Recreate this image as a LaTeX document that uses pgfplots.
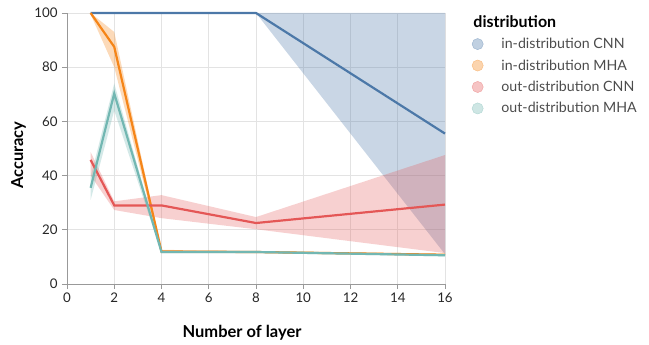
\documentclass[border=0pt]{standalone}
\usepackage{fontspec}
\setmainfont{Lato}
\usepackage{pgfplots}
\pgfplotsset{compat=1.18}
\definecolor{cblue}{HTML}{4C78A8}
\definecolor{corange}{HTML}{F58518}
\definecolor{cred}{HTML}{E45756}
\definecolor{cteal}{HTML}{72B7B2}
\begin{document}
\begin{tikzpicture}[x=1pt,y=1pt]
\path (0,0) rectangle (649,345);
\begin{axis}[
  at={(67pt,61pt)}, anchor=origin,
  scale only axis, width=378pt, height=271pt,
  xmin=0, xmax=16, ymin=0, ymax=100,
  xtick={0,2,...,16}, ytick={0,20,...,100},
  axis lines*=left,
  axis line style={gray!80, line width=0.8pt, -},
  tick align=outside, tick style={gray!80, line width=0.8pt},
  major tick length=5pt,
  grid=major, grid style={gray!22, line width=0.8pt},
  /pgf/number format/assume math mode=true,
  ticklabel style={font=\fontsize{13.3}{15}\selectfont, text=black!85},
  yticklabel style={xshift=-1pt},
  xlabel={\textbf{Number of layer}}, ylabel={\textbf{Accuracy}},
  label style={font=\fontsize{16.5}{18}\selectfont},
  xlabel style={at={(axis description cs:0.463,-0.18)}, anchor=center},
  ylabel style={at={(axis description cs:-0.128,0.475)}, anchor=center, rotate=0},
  legend style={at={(rel axis cs:1.07,1.0)}, anchor=north west, draw=none, fill=none,
    font=\fontsize{14.2}{15}\selectfont, row sep=5.5pt, inner sep=0pt,
    text=black!70},
  legend cell align=left,
  clip=false,
]
% bands
\addplot[fill=cblue, fill opacity=0.3, draw=none, forget plot] coordinates {
 (1,100) (2,100) (4,100) (8,100) (16,100) (16,11) (8,100) (4,100) (2,100) (1,100)} -- cycle;
\addplot[fill=corange, fill opacity=0.3, draw=none, forget plot] coordinates {
 (1,100) (2,93) (4,12.6) (8,12.2) (16,11.2) (16,10.4) (8,11.4) (4,11.4) (2,80) (1,99.5)} -- cycle;
\addplot[fill=cred, fill opacity=0.28, draw=none, forget plot] coordinates {
 (1,48.7) (2,30.5) (4,32.8) (8,24.7) (16,47.6) (16,11.4) (8,20.2) (4,24.3) (2,27.3) (1,40)} -- cycle;
\addplot[fill=cteal, fill opacity=0.3, draw=none, forget plot] coordinates {
 (1,39.5) (2,74) (4,12.2) (8,12.2) (16,11) (16,10.2) (8,11.4) (4,11.4) (2,64) (1,31)} -- cycle;
% lines
\addplot[cblue, line width=2.2pt, forget plot] coordinates {(1,100) (2,100) (4,100) (8,100) (16,55.5)};
\addplot[corange, line width=2.2pt, forget plot] coordinates {(1,100) (2,87.5) (4,12) (8,11.8) (16,10.8)};
\addplot[cred, line width=2.2pt, forget plot] coordinates {(1,45.8) (2,29) (4,29) (8,22.5) (16,29.3)};
\addplot[cteal, line width=2.2pt, forget plot] coordinates {(1,35.5) (2,70.3) (4,11.8) (8,11.8) (16,10.6)};
% legend
\addlegendimage{empty legend}
\addlegendentry{\hspace{-12pt}\textcolor{black}{\fontsize{16}{17}\selectfont\textbf{distribution}}}
\addlegendimage{legend image code/.code={\fill[cblue!35] (6pt,0) circle (5.5pt); \draw[cblue!50, line width=0.5pt] (6pt,0) circle (5.5pt);}}
\addlegendentry{\hspace{16pt}in-distribution CNN}
\addlegendimage{legend image code/.code={\fill[corange!35] (6pt,0) circle (5.5pt); \draw[corange!50, line width=0.5pt] (6pt,0) circle (5.5pt);}}
\addlegendentry{\hspace{16pt}in-distribution MHA}
\addlegendimage{legend image code/.code={\fill[cred!35] (6pt,0) circle (5.5pt); \draw[cred!50, line width=0.5pt] (6pt,0) circle (5.5pt);}}
\addlegendentry{\hspace{16pt}out-distribution CNN}
\addlegendimage{legend image code/.code={\fill[cteal!35] (6pt,0) circle (5.5pt); \draw[cteal!50, line width=0.5pt] (6pt,0) circle (5.5pt);}}
\addlegendentry{\hspace{16pt}out-distribution MHA}
\end{axis}
\end{tikzpicture}
\end{document}
